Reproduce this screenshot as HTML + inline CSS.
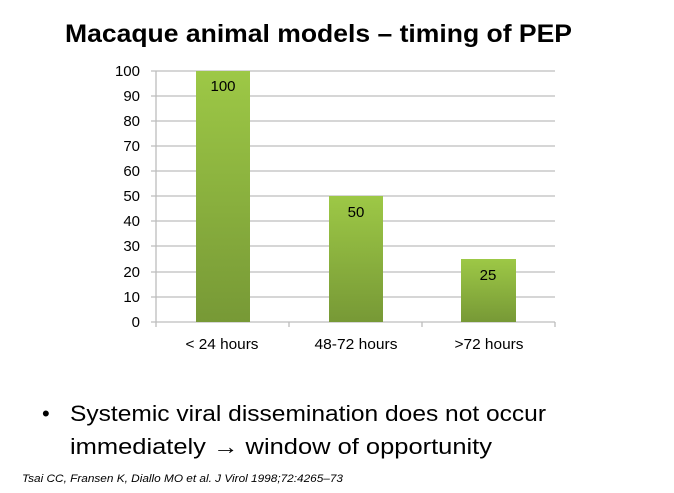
<!DOCTYPE html>
<html><head><meta charset="utf-8"><style>html,body{margin:0;padding:0;background:#fff}svg{display:block}</style></head>
<body>
<svg width="674" height="493" viewBox="0 0 674 493" xmlns="http://www.w3.org/2000/svg" font-family="Liberation Sans, sans-serif">
<defs>
<linearGradient id="g" x1="0" y1="0" x2="0" y2="1">
<stop offset="0" stop-color="#9dc846"/><stop offset="1" stop-color="#779936"/>
</linearGradient>
</defs>
<text x="65" y="42" font-size="25" font-weight="bold" fill="#000" textLength="507" lengthAdjust="spacingAndGlyphs">Macaque animal models – timing of PEP</text>
<g stroke="#bdbdbd" stroke-width="1.3">
<line x1="151" y1="71" x2="555" y2="71"/><line x1="151" y1="96" x2="555" y2="96"/>
<line x1="151" y1="121" x2="555" y2="121"/><line x1="151" y1="146" x2="555" y2="146"/>
<line x1="151" y1="171" x2="555" y2="171"/><line x1="151" y1="196" x2="555" y2="196"/>
<line x1="151" y1="221" x2="555" y2="221"/><line x1="151" y1="246" x2="555" y2="246"/>
<line x1="151" y1="272" x2="555" y2="272"/><line x1="151" y1="297" x2="555" y2="297"/>
<line x1="151" y1="322" x2="555" y2="322"/>
<line x1="156" y1="71" x2="156" y2="327"/>
<line x1="289" y1="322" x2="289" y2="327"/><line x1="422" y1="322" x2="422" y2="327"/><line x1="555" y1="322" x2="555" y2="327"/>
</g>
<rect x="196" y="71" width="54" height="251" fill="url(#g)"/>
<rect x="329" y="196" width="54" height="126" fill="url(#g)"/>
<rect x="461" y="259" width="55" height="63" fill="url(#g)"/>
<g font-size="15" fill="#000" text-anchor="middle">
<text x="223" y="91">100</text><text x="356" y="217">50</text><text x="488" y="280">25</text>
<text x="222" y="349" textLength="73" lengthAdjust="spacingAndGlyphs">&lt; 24 hours</text><text x="356" y="349" textLength="83" lengthAdjust="spacingAndGlyphs">48-72 hours</text><text x="489" y="349" textLength="69" lengthAdjust="spacingAndGlyphs">&gt;72 hours</text>
</g>
<g font-size="15" fill="#000" text-anchor="end">
<text x="140" y="76">100</text><text x="140" y="101">90</text><text x="140" y="126">80</text>
<text x="140" y="151">70</text><text x="140" y="176">60</text><text x="140" y="201">50</text>
<text x="140" y="226">40</text><text x="140" y="251">30</text><text x="140" y="277">20</text>
<text x="140" y="302">10</text><text x="140" y="327">0</text>
</g>
<text x="42" y="421" font-size="22" fill="#000">•</text>
<text x="70" y="421" font-size="22" fill="#000" textLength="476" lengthAdjust="spacingAndGlyphs">Systemic viral dissemination does not occur</text>
<text x="70" y="454" font-size="22" fill="#000" textLength="422" lengthAdjust="spacingAndGlyphs">immediately → window of opportunity</text>
<text x="22" y="482" font-size="11" font-style="italic" fill="#000" textLength="321" lengthAdjust="spacingAndGlyphs">Tsai CC, Fransen K, Diallo MO et al. J Virol 1998;72:4265–73</text>
</svg>
</body></html>
